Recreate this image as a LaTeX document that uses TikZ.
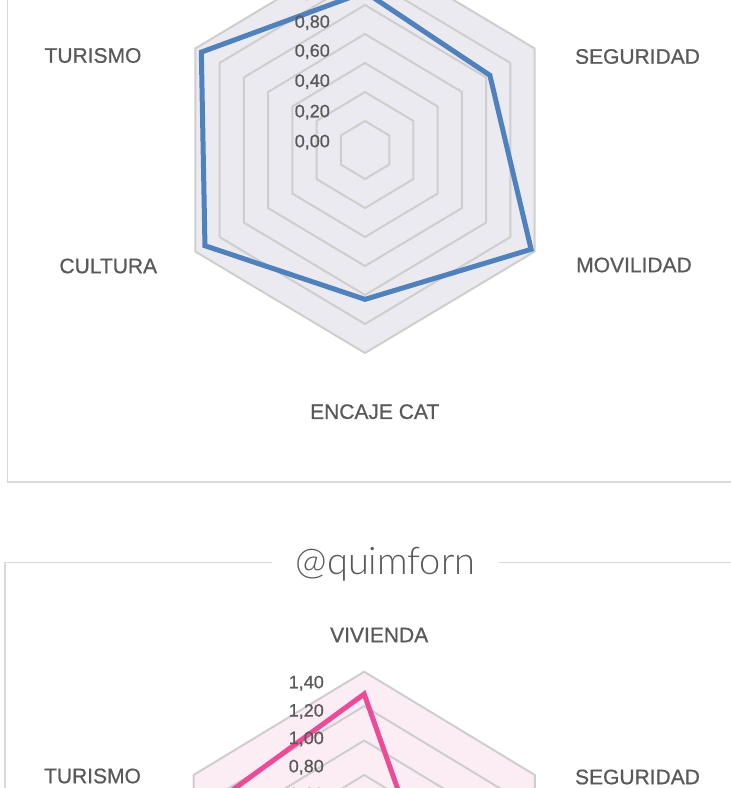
\documentclass[tikz,border=0pt]{standalone}
\usepackage{fontspec}
\setmainfont{Liberation Sans}
\newfontfamily\labelfont{Liberation Sans}[FakeBold=0.7]
\newfontfamily\titlefont{Lato Light}
\definecolor{labelgray}{RGB}{89,89,89}
\definecolor{gridgray}{RGB}{206,206,206}
\definecolor{framegray}{RGB}{217,217,217}
\definecolor{fillA}{RGB}{235,234,241}
\definecolor{fillB}{RGB}{252,236,244}
\definecolor{serieblue}{RGB}{79,129,189}
\definecolor{seriepink}{RGB}{236,76,151}
\begin{document}
\begin{tikzpicture}[x=1pt,y=-1pt,
  axislabel/.style={font=\labelfont\fontsize{21}{21}\selectfont,text=labelgray},
  ticklabel/.style={font=\labelfont\fontsize{18}{18}\selectfont,text=labelgray,anchor=east,text depth=0pt,inner sep=0pt},
  ring/.style={draw=gridgray,line width=2pt},
  frame/.style={draw=framegray,line width=1.5pt},
  serieA/.style={draw=serieblue,line width=5pt},
  serieB/.style={draw=seriepink,line width=5pt}]
\def\hexagon#1{(90:#1) -- (30:#1) -- (-30:#1) -- (-90:#1) -- (210:#1) -- (150:#1) -- cycle}

\clip (0,0) rectangle (731,788);

% first chart
\coordinate (fA1) at (7.5,0);
\coordinate (fA2) at (7.5,482);
\coordinate (fA3) at (731,482);
\draw[frame] (fA1) -- (fA2) -- (fA3);

\begin{scope}[shift={(365,150)},xscale=140,yscale=-145]
\fill[fillA] \hexagon{1.4};
\foreach \r in {0.2,0.4,...,1.4} \draw[ring] \hexagon{\r};
\coordinate (aViv) at (90:1.09);
\coordinate (aSeg) at (30:1.03);
\coordinate (aMov) at (-30:1.37);
\coordinate (aEnc) at (-90:1.03);
\coordinate (aCul) at (210:1.32);
\coordinate (aTur) at (150:1.35);
\end{scope}
\draw[serieA] (aViv) -- (aSeg) -- (aMov) -- (aEnc) -- (aCul) -- (aTur) -- cycle;

\node[ticklabel] (tA0) at (330,141) {0,00};
\node[ticklabel] (tA1) at (330,111) {0,20};
\node[ticklabel] (tA2) at (330,80.5) {0,40};
\node[ticklabel] (tA3) at (330,50.5) {0,60};
\node[ticklabel] (tA4) at (330,21.5) {0,80};
\node[ticklabel] (tA5) at (330,-8.5) {1,00};

\node[axislabel] (lTurA) at (93,55.5) {TURISMO};
\node[axislabel] (lSegA) at (637.5,56.5) {SEGURIDAD};
\node[axislabel] (lCulA) at (108.3,266) {CULTURA};
\node[axislabel] (lMovA) at (634,265) {MOVILIDAD};
\node[axislabel] (lEncA) at (374.7,411.7) {ENCAJE CAT};

% second chart
\node[font=\titlefont\fontsize{38}{38}\selectfont,text=labelgray,inner xsep=23pt,anchor=base] (title) at (385.5,574) {@quimforn};
\coordinate (fB1) at (5,788);
\coordinate (fB2) at (5,562.3);
\coordinate (fB3) at (731,562.3);
\draw[frame] (fB1) -- (fB2) -- (title.west |- fB2);
\draw[frame] (title.east |- fB3) -- (fB3);

% axis runs from 0,20 to 1,40 here, so radius = value - 0,20
\begin{scope}[shift={(364.2,878.3)},xscale=164.2,yscale=-172.2]
\fill[fillB] \hexagon{1.2};
\foreach \r in {0.2,0.4,...,1.2} \draw[ring] \hexagon{\r};
\coordinate (bViv) at (90:1.07);
\coordinate (bSeg) at (30:0.377);
\coordinate (bMov) at (-30:0.6);
\coordinate (bEnc) at (-90:0.6);
\coordinate (bCul) at (210:0.8);
\coordinate (bTur) at (150:0.971);
\end{scope}
\draw[serieB] (bViv) -- (bSeg) -- (bMov) -- (bEnc) -- (bCul) -- (bTur) -- cycle;

\node[ticklabel] (tB7) at (324,682) {1,40};
\node[ticklabel] (tB6) at (324,710.3) {1,20};
\node[ticklabel] (tB5) at (324,737.8) {1,00};
\node[ticklabel] (tB4) at (324,766) {0,80};
\node[ticklabel] (tB3) at (324,794) {0,60};

\node[axislabel] (lVivB) at (379.2,635) {VIVIENDA};
\node[axislabel] (lTurB) at (92.5,776) {TURISMO};
\node[axislabel] (lSegB) at (637.5,777) {SEGURIDAD};
\end{tikzpicture}
\end{document}
